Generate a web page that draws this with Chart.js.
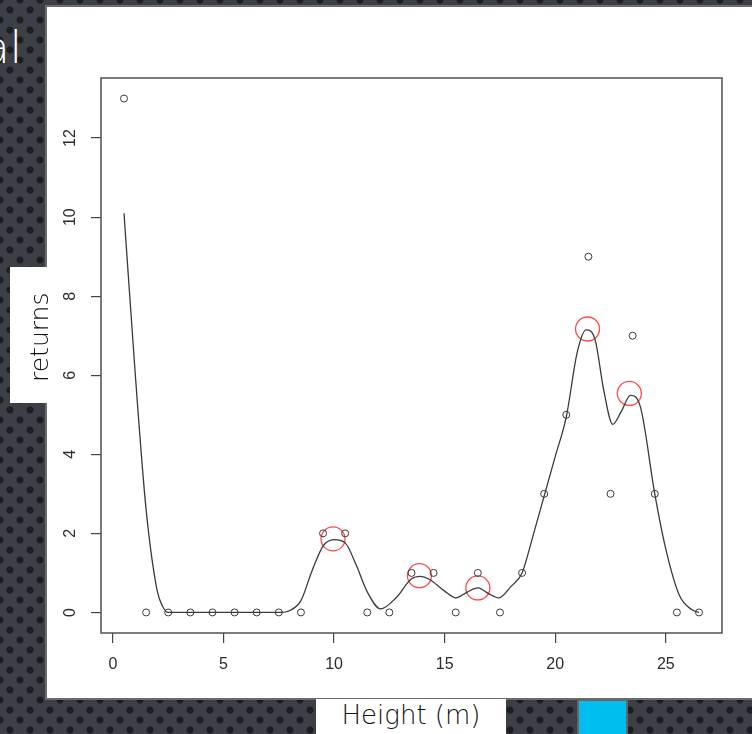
<!DOCTYPE html>
<html>
<head>
<meta charset="utf-8">
<script src="https://cdn.jsdelivr.net/npm/chart.js"></script>
<style>
  html, body { margin: 0; padding: 0; }
  body {
    width: 752px; height: 734px; overflow: hidden; position: relative;
    background-color: #3c3f45;
    background-image: radial-gradient(circle, #1c1e21 3px, transparent 4px),
                      radial-gradient(circle, #1c1e21 3px, transparent 4px);
    background-size: 20px 20px;
    background-position: 0 0, 10px 10px;
    font-family: "DejaVu Sans", sans-serif;
  }
  #title {
    position: absolute; right: 730px; top: 22px;
    color: #fff; font-size: 44px; font-weight: 200; white-space: nowrap;
  }
  #panel {
    position: absolute; left: 45px; top: 5px; width: 720px; height: 691px;
    background: #fff; border: 2px solid #6c6c6c;
  }
  #chart { position: absolute; left: 47px; top: 7px; }
  #ylab {
    position: absolute; left: 10px; top: 267px; width: 38px; height: 136px;
    background: #fff;
  }
  .rot {
    position: absolute; left: 27px; top: 382px; transform-origin: 0 0;
    transform: rotate(-90deg); font-size: 25px; font-weight: 200; color: #111;
    white-space: nowrap; line-height: 25px;
  }
  #xlab {
    position: absolute; left: 316px; top: 699px; width: 190px; height: 40px;
    background: #fff; text-align: center; font-size: 26px; font-weight: 200;
    color: #111; line-height: 32px;
  }
  #cyan {
    position: absolute; left: 577px; top: 699px; width: 47px; height: 40px;
    background: #00bff0; border: 2px solid #666;
  }
</style>
</head>
<body>
<div id="title">al</div>
<div id="panel"></div>
<canvas id="chart" width="705" height="691"></canvas>
<div id="ylab"></div>
<div class="rot">returns</div>
<div id="xlab">Height (m)</div>
<div id="cyan"></div>
<script>
const heights = [0.5, 1.5, 2.5, 3.5, 4.5, 5.5, 6.5, 7.5, 8.5, 9.5, 10.5, 11.5, 12.5, 13.5,
  14.5, 15.5, 16.5, 17.5, 18.5, 19.5, 20.5, 21.5, 22.5, 23.5, 24.5, 25.5, 26.5];
const returns = [13, 0, 0, 0, 0, 0, 0, 0, 0, 2, 2, 0, 0, 1, 1, 0, 1, 0, 1, 3, 5, 9, 3, 7, 3, 0, 0];

// smoothed curve
const smoothX = [0.5, 1.0, 1.5, 2.0, 2.25, 2.5, 7.5, 8.0, 8.5, 9.0, 9.5, 10.0, 10.5, 11.0,
  11.5, 12.1, 12.8, 13.5, 13.9, 14.3, 15.0, 15.5, 16.0, 16.5, 17.0, 17.45, 18.0, 18.5,
  19.0, 19.5, 20.0, 20.5, 21.0, 21.4, 21.8, 22.2, 22.6, 23.0, 23.4, 23.85, 24.5, 25.0,
  25.6, 26.2, 26.5];
const smoothY = [10.1, 6.1, 2.6, 0.55, 0.15, 0, 0, 0.05, 0.3, 1.05, 1.68, 1.84, 1.76, 1.2,
  0.52, 0.09, 0.37, 0.85, 0.91, 0.84, 0.54, 0.37, 0.51, 0.62, 0.47, 0.37, 0.66, 1.0,
  1.95, 2.95, 3.95, 4.95, 6.6, 7.15, 6.9, 5.6, 4.76, 5.1, 5.49, 5.2, 3.0, 1.6,
  0.45, 0.06, 0];

// red markers at the local maxima
const peakX = [9.95, 13.86, 16.5, 21.46, 23.35];
const peakY = [1.86, 0.93, 0.62, 7.17, 5.54];

const xTicks = [0, 5, 10, 15, 20, 25];
const yTicks = [0, 2, 4, 6, 8, 10, 12];

const toXY = (xs, ys) => xs.map((x, i) => ({ x: x, y: ys[i] }));

const boxPlugin = {
  id: 'box',
  afterDatasetsDraw(chart) {
    const a = chart.chartArea;
    const ctx = chart.ctx;
    ctx.save();
    ctx.strokeStyle = '#505050';
    ctx.lineWidth = 1.5;
    ctx.strokeRect(a.left, a.top, a.right - a.left, a.bottom - a.top);
    ctx.restore();
  }
};

Chart.defaults.font.family = '"Liberation Sans", Arial, sans-serif';
Chart.defaults.color = '#2b2b2b';

new Chart(document.getElementById('chart'), {
  type: 'scatter',
  data: {
    datasets: [
      {
        data: toXY(smoothX, smoothY),
        showLine: true,
        cubicInterpolationMode: 'monotone',
        borderColor: '#3a3a3a',
        borderWidth: 1.3,
        pointRadius: 0
      },
      {
        data: toXY(heights, returns),
        pointRadius: 3.5,
        borderWidth: 1,
        borderColor: '#3a3a3a',
        backgroundColor: 'rgba(0,0,0,0)'
      },
      {
        data: toXY(peakX, peakY),
        pointRadius: 12,
        borderWidth: 1.3,
        borderColor: '#ff4a4a',
        backgroundColor: 'rgba(0,0,0,0)'
      }
    ]
  },
  options: {
    responsive: false,
    animation: false,
    layout: { padding: { left: 0, top: 71, right: 30, bottom: 0 } },
    plugins: { legend: { display: false }, tooltip: { enabled: false } },
    scales: {
      x: {
        type: 'linear',
        min: -0.54,
        max: 27.54,
        afterBuildTicks: s => { s.ticks = xTicks.map(v => ({ value: v })); },
        afterFit: s => { s.height = 65; },
        grid: { drawOnChartArea: false, tickLength: 10, color: '#444', lineWidth: 1.2 },
        border: { display: false },
        ticks: { padding: 12, font: { size: 16 }, maxRotation: 0 }
      },
      y: {
        type: 'linear',
        min: -0.52,
        max: 13.52,
        afterBuildTicks: s => { s.ticks = yTicks.map(v => ({ value: v })); },
        afterFit: s => { s.width = 54; },
        grid: { drawOnChartArea: false, tickLength: 10, color: '#444', lineWidth: 1.2 },
        border: { display: false },
        ticks: { padding: 12, font: { size: 16 }, minRotation: 90, maxRotation: 90, crossAlign: 'center' }
      }
    }
  },
  plugins: [boxPlugin]
});
</script>
</body>
</html>
